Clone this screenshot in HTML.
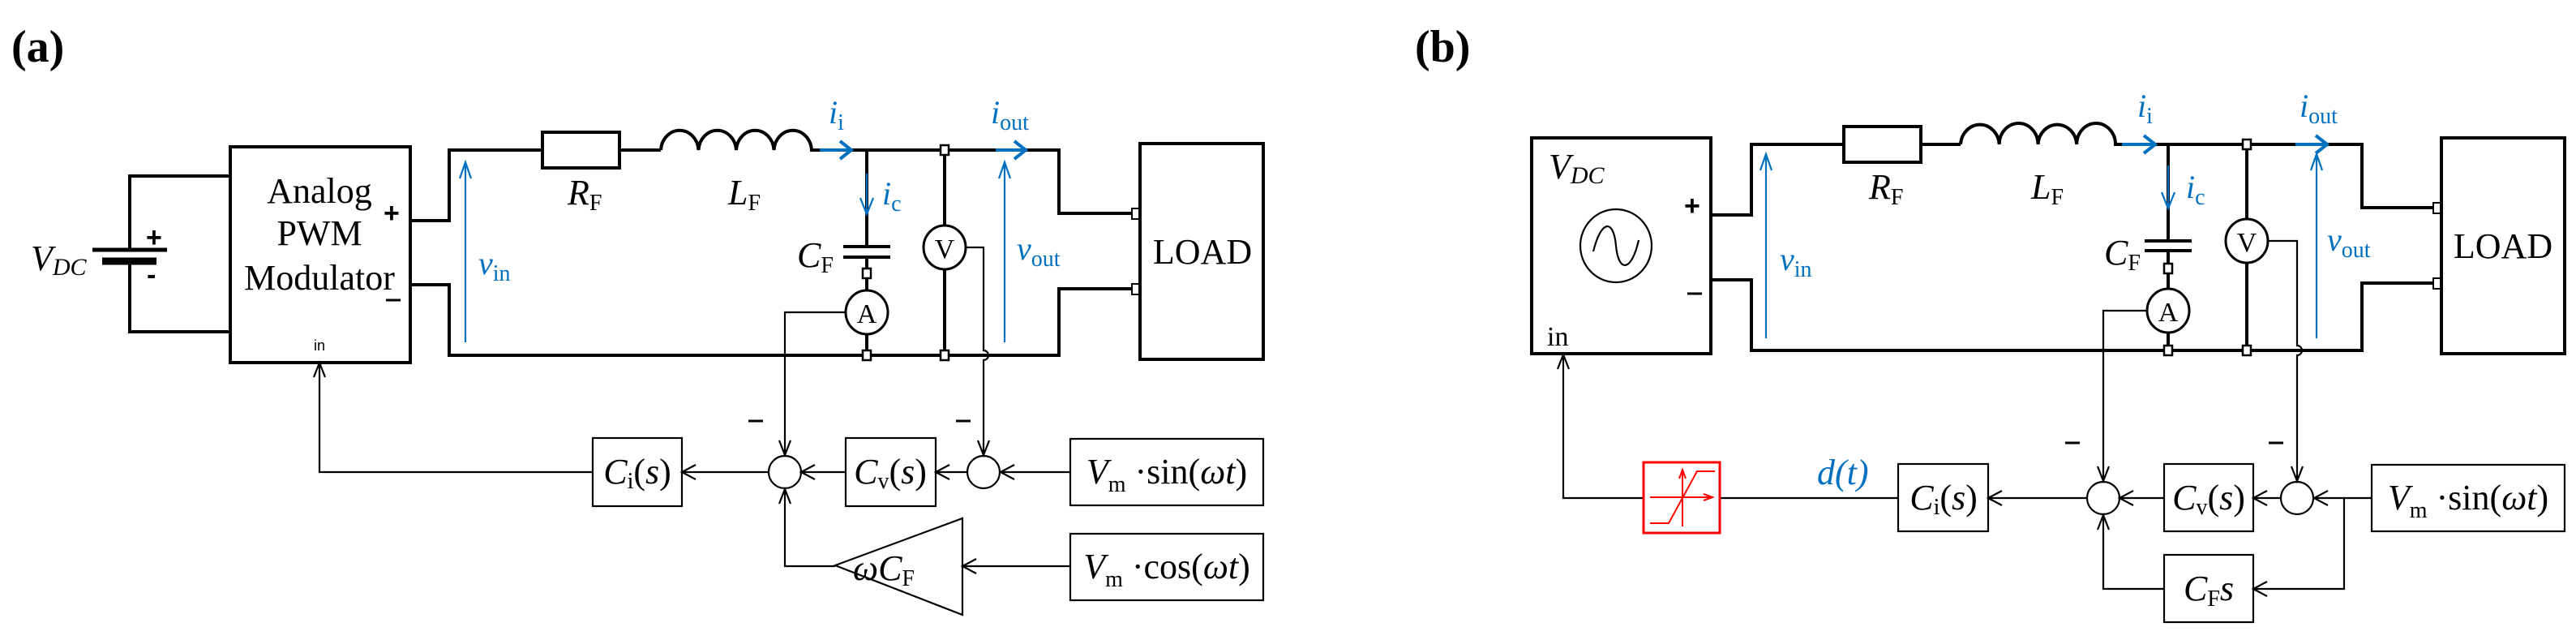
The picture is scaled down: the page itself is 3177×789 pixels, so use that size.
<!DOCTYPE html>
<html><head><meta charset="utf-8"><style>
html,body{margin:0;padding:0;background:#fff;}
svg{display:block;}
text{font-family:"Liberation Serif",serif;}
.w{stroke:#000;stroke-width:4;fill:none;}
.s{stroke:#000;stroke-width:2.2;fill:none;}
.b{stroke:#0070C0;stroke-width:2.2;fill:none;}
.bt{stroke:#0070C0;stroke-width:4;fill:none;}
.t{font-size:44px;fill:#000;}
.bl{fill:#0070C0;font-style:italic;font-size:40px;}
.i{font-style:italic;}
.sub{font-size:28px;font-style:normal;}
</style></head><body>
<svg width="3177" height="789" viewBox="0 0 3177 789" xmlns="http://www.w3.org/2000/svg">
<!-- ============ (a) ============ -->
<text x="14" y="76" style="font-family:'Liberation Serif',serif;font-weight:bold;font-size:56px">(a)</text>
<!-- battery -->
<path class="w" d="M284 217 H160 V308 M160 321 V409 H284"/>
<line x1="114" y1="308" x2="206" y2="308" stroke="#000" stroke-width="5"/>
<line x1="126" y1="322" x2="193" y2="322" stroke="#000" stroke-width="9"/>
<text x="180" y="304" style="font-family:'Liberation Sans',sans-serif;font-size:34px;font-weight:bold">+</text>
<text x="181" y="350" style="font-family:'Liberation Sans',sans-serif;font-size:34px;font-weight:bold">-</text>
<text x="38" y="333" class="t i">V<tspan font-size="30" dy="6">DC</tspan></text>
<!-- modulator -->
<rect x="284" y="181" width="222" height="266" class="w"/>
<text x="394" y="250" class="t" text-anchor="middle">Analog</text>
<text x="394" y="302" class="t" text-anchor="middle">PWM</text>
<text x="394" y="357" class="t" text-anchor="middle">Modulator</text>
<text x="394" y="432" text-anchor="middle" style="font-family:'Liberation Sans',sans-serif;font-size:18px">in</text>
<text x="473" y="274" style="font-family:'Liberation Sans',sans-serif;font-size:34px;font-weight:bold">+</text>
<line x1="476" y1="370" x2="494" y2="370" stroke="#000" stroke-width="3"/>
<!-- circuit -->
<path class="w" d="M506 272 H554 V185 H669 M764 185 H815"/>
<rect x="669" y="163" width="95" height="44" class="w"/>
<path class="w" d="M815 185 A23.3 26 0 0 1 861.5 185 A23.3 26 0 0 1 908 185 A23.3 26 0 0 1 954.5 185 A23.3 26 0 0 1 1001 185 H1306 V263 H1400"/>
<path class="w" d="M506 351 H554 V438 H1306 V356 H1400"/>
<rect x="1406" y="177" width="152" height="266" class="w"/>
<text x="1483" y="325" class="t" text-anchor="middle">LOAD</text>
<rect x="1396" y="257" width="9" height="13" fill="#fff" stroke="#000" stroke-width="2"/>
<rect x="1396" y="350" width="9" height="13" fill="#fff" stroke="#000" stroke-width="2"/>
<!-- cap branch -->
<path class="w" d="M1069 185 V304 M1069 317 V358 M1069 412 V438"/>
<line x1="1040" y1="304" x2="1098" y2="304" stroke="#000" stroke-width="4"/>
<line x1="1040" y1="317" x2="1098" y2="317" stroke="#000" stroke-width="4"/>
<rect x="1064" y="331" width="10" height="12" fill="#fff" stroke="#000" stroke-width="2.5"/>
<ellipse cx="1069" cy="385" rx="26" ry="27" fill="#fff" stroke="#000" stroke-width="3"/>
<text x="1069" y="398" text-anchor="middle" style="font-size:34px">A</text>
<rect x="1064" y="432" width="10" height="12" fill="#fff" stroke="#000" stroke-width="2.5"/>
<text x="983" y="329" class="t i">C<tspan class="sub" dy="7">F</tspan></text>
<!-- voltmeter -->
<path class="w" d="M1165 185 V278 M1165 332 V438"/>
<ellipse cx="1165" cy="305" rx="26" ry="27" fill="#fff" stroke="#000" stroke-width="3"/>
<text x="1165" y="318" text-anchor="middle" style="font-size:34px">V</text>
<rect x="1160" y="179" width="10" height="12" fill="#fff" stroke="#000" stroke-width="2.5"/>
<rect x="1160" y="432" width="10" height="12" fill="#fff" stroke="#000" stroke-width="2.5"/>
<text x="700" y="252" class="t i">R<tspan class="sub" dy="7">F</tspan></text>
<text x="898" y="252" class="t i">L<tspan class="sub" dy="7">F</tspan></text>
<!-- blue -->
<path class="bt" d="M1011 185 H1050 M1036 174 L1050 185 L1036 196"/>
<path class="bt" d="M1228 185 H1265 M1251 174 L1265 185 L1251 196"/>
<path class="b" d="M1069 214 V264 M1061 244 L1069 264 L1077 244"/>
<path class="b" d="M574 422 V200 M567 220 L574 200 L581 220"/>
<path class="b" d="M1239 422 V200 M1232 220 L1239 200 L1246 220"/>
<text x="1022" y="152" class="bl">i<tspan class="sub" dy="8">i</tspan></text>
<text x="1222" y="152" class="bl">i<tspan class="sub" dy="8">out</tspan></text>
<text x="1088" y="252" class="bl">i<tspan class="sub" dy="8">c</tspan></text>
<text x="590" y="338" class="bl">v<tspan class="sub" dy="8">in</tspan></text>
<text x="1254" y="320" class="bl">v<tspan class="sub" dy="8">out</tspan></text>
<!-- control -->
<path class="s" d="M1043 385 H968 V561 M961 543 L968 561 L975 543"/>
<path class="s" d="M1191 305 H1213 V432 A6 6 0 0 1 1213 444 V561 M1206 543 L1213 561 L1220 543"/>
<line x1="923" y1="519" x2="941" y2="519" stroke="#000" stroke-width="3"/>
<line x1="1179" y1="519" x2="1197" y2="519" stroke="#000" stroke-width="3"/>
<ellipse cx="968" cy="582" rx="20" ry="20" class="s"/>
<ellipse cx="1213" cy="582" rx="20" ry="20" class="s"/>
<rect x="731" y="540" width="110" height="84" class="s" stroke-width="3"/>
<rect x="1043" y="540" width="111" height="84" class="s" stroke-width="3"/>
<rect x="1320" y="541" width="238" height="82" class="s" stroke-width="3"/>
<rect x="1320" y="658" width="238" height="82" class="s" stroke-width="3"/>
<text x="786" y="596" class="t" text-anchor="middle"><tspan class="i">C</tspan><tspan class="sub" dy="6">i</tspan><tspan dy="-6">(</tspan><tspan class="i">s</tspan>)</text>
<text x="1098" y="596" class="t" text-anchor="middle"><tspan class="i">C</tspan><tspan class="sub" dy="6">v</tspan><tspan dy="-6">(</tspan><tspan class="i">s</tspan>)</text>
<text x="1439" y="596" class="t" text-anchor="middle"><tspan class="i">V</tspan><tspan class="sub i" dy="10">m</tspan><tspan dy="-10"> ·sin(</tspan><tspan class="i">ωt</tspan>)</text>
<text x="1439" y="713" class="t" text-anchor="middle"><tspan class="i">V</tspan><tspan class="sub i" dy="10">m</tspan><tspan dy="-10"> ·cos(</tspan><tspan class="i">ωt</tspan>)</text>
<path class="s" d="M1320 582 H1234 M1251 573 L1234 582 L1251 591"/>
<path class="s" d="M1192 582 H1154 M1171 573 L1154 582 L1171 591"/>
<path class="s" d="M1043 582 H988 M1005 573 L988 582 L1005 591"/>
<path class="s" d="M948 582 H841 M858 573 L841 582 L858 591"/>
<path class="s" d="M731 582 H394 V447 M387 465 L394 447 L401 465"/>
<path class="s" d="M1320 698 H1187 M1204 689 L1187 698 L1204 707"/>
<path class="s" d="M1030 697 L1187 639 V758 Z" fill="#fff"/>
<text x="1090" y="715" class="t i" text-anchor="middle">ωC<tspan class="sub" dy="7">F</tspan></text>
<path class="s" d="M1030 698 H968 V603 M961 621 L968 603 L975 621"/>

<!-- ============ (b) ============ -->
<text x="1745" y="76" style="font-family:'Liberation Serif',serif;font-weight:bold;font-size:56px">(b)</text>
<rect x="1889" y="170" width="221" height="266" class="w"/>
<text x="1910" y="220" class="t i">V<tspan font-size="30" dy="6">DC</tspan></text>
<ellipse cx="1993" cy="303" rx="44" ry="45" class="s" stroke-width="3"/>
<path class="s" stroke-width="3" d="M1965 310 C1975 270,1990 270,1993 303 C1996 336,2012 336,2021 296"/>
<text x="2077" y="265" style="font-family:'Liberation Sans',sans-serif;font-size:34px;font-weight:bold">+</text>
<line x1="2081" y1="362" x2="2099" y2="362" stroke="#000" stroke-width="3"/>
<text x="1908" y="426" style="font-size:34px">in</text>
<path class="w" d="M2110 265 H2160 V178 H2274 M2369 178 H2418"/>
<rect x="2274" y="156" width="95" height="44" class="w"/>
<path class="w" d="M2418 178 A23.9 26 0 0 1 2465.7 178 A23.9 26 0 0 1 2513.5 178 A23.9 26 0 0 1 2561.2 178 A23.9 26 0 0 1 2609 178 H2913 V256 H3008"/>
<path class="w" d="M2110 345 H2160 V432 H2913 V349 H3008"/>
<rect x="3011" y="170" width="152" height="266" class="w"/>
<text x="3087" y="318" class="t" text-anchor="middle">LOAD</text>
<rect x="3001" y="250" width="9" height="13" fill="#fff" stroke="#000" stroke-width="2"/>
<rect x="3001" y="343" width="9" height="13" fill="#fff" stroke="#000" stroke-width="2"/>
<path class="w" d="M2674 178 V297 M2674 309 V356 M2674 410 V432"/>
<line x1="2645" y1="297" x2="2703" y2="297" stroke="#000" stroke-width="4"/>
<line x1="2645" y1="309" x2="2703" y2="309" stroke="#000" stroke-width="4"/>
<rect x="2669" y="325" width="10" height="12" fill="#fff" stroke="#000" stroke-width="2.5"/>
<ellipse cx="2674" cy="383" rx="26" ry="27" fill="#fff" stroke="#000" stroke-width="3"/>
<text x="2674" y="396" text-anchor="middle" style="font-size:34px">A</text>
<rect x="2669" y="426" width="10" height="12" fill="#fff" stroke="#000" stroke-width="2.5"/>
<text x="2595" y="326" class="t i">C<tspan class="sub" dy="7">F</tspan></text>
<path class="w" d="M2771 178 V270 M2771 324 V432"/>
<ellipse cx="2771" cy="297" rx="26" ry="27" fill="#fff" stroke="#000" stroke-width="3"/>
<text x="2771" y="310" text-anchor="middle" style="font-size:34px">V</text>
<rect x="2766" y="172" width="10" height="12" fill="#fff" stroke="#000" stroke-width="2.5"/>
<rect x="2766" y="426" width="10" height="12" fill="#fff" stroke="#000" stroke-width="2.5"/>
<text x="2305" y="245" class="t i">R<tspan class="sub" dy="7">F</tspan></text>
<text x="2505" y="245" class="t i">L<tspan class="sub" dy="7">F</tspan></text>
<path class="bt" d="M2617 178 H2658 M2644 167 L2658 178 L2644 189"/>
<path class="bt" d="M2831 178 H2870 M2856 167 L2870 178 L2856 189"/>
<path class="b" d="M2674 204 V257 M2666 237 L2674 257 L2682 237"/>
<path class="b" d="M2178 417 V190 M2171 210 L2178 190 L2185 210"/>
<path class="b" d="M2857 417 V190 M2850 210 L2857 190 L2864 210"/>
<text x="2636" y="144" class="bl">i<tspan class="sub" dy="8">i</tspan></text>
<text x="2836" y="144" class="bl">i<tspan class="sub" dy="8">out</tspan></text>
<text x="2696" y="244" class="bl">i<tspan class="sub" dy="8">c</tspan></text>
<text x="2195" y="333" class="bl">v<tspan class="sub" dy="8">in</tspan></text>
<text x="2870" y="309" class="bl">v<tspan class="sub" dy="8">out</tspan></text>
<!-- control b -->
<path class="s" d="M2648 383 H2594 V593 M2587 575 L2594 593 L2601 575"/>
<path class="s" d="M2797 297 H2833 V426 A6 6 0 0 1 2833 438 V593 M2826 575 L2833 593 L2840 575"/>
<line x1="2547" y1="546" x2="2565" y2="546" stroke="#000" stroke-width="3"/>
<line x1="2798" y1="546" x2="2816" y2="546" stroke="#000" stroke-width="3"/>
<ellipse cx="2594" cy="614" rx="20" ry="20" class="s"/>
<ellipse cx="2833" cy="614" rx="20" ry="20" class="s"/>
<rect x="2341" y="572" width="111" height="83" class="s" stroke-width="3"/>
<rect x="2669" y="572" width="110" height="83" class="s" stroke-width="3"/>
<rect x="2925" y="573" width="238" height="82" class="s" stroke-width="3"/>
<rect x="2669" y="684" width="110" height="83" class="s" stroke-width="3"/>
<text x="2397" y="628" class="t" text-anchor="middle"><tspan class="i">C</tspan><tspan class="sub" dy="6">i</tspan><tspan dy="-6">(</tspan><tspan class="i">s</tspan>)</text>
<text x="2724" y="628" class="t" text-anchor="middle"><tspan class="i">C</tspan><tspan class="sub" dy="6">v</tspan><tspan dy="-6">(</tspan><tspan class="i">s</tspan>)</text>
<text x="3044" y="628" class="t" text-anchor="middle"><tspan class="i">V</tspan><tspan class="sub i" dy="10">m</tspan><tspan dy="-10"> ·sin(</tspan><tspan class="i">ωt</tspan>)</text>
<text x="2724" y="740" class="t i" text-anchor="middle">C<tspan class="sub i" dy="7">F</tspan><tspan dy="-7">s</tspan></text>
<path class="s" d="M2925 614 H2854 M2871 605 L2854 614 L2871 623"/>
<path class="s" d="M2813 614 H2779 M2796 605 L2779 614 L2796 623"/>
<path class="s" d="M2669 614 H2614 M2631 605 L2614 614 L2631 623"/>
<path class="s" d="M2574 614 H2452 M2469 605 L2452 614 L2469 623"/>
<path class="s" d="M2341 614 H1928 V437 M1921 455 L1928 437 L1935 455"/>
<path class="s" d="M2891 614 V726 H2779 M2796 717 L2779 726 L2796 735"/>
<path class="s" d="M2669 726 H2594 V635 M2587 653 L2594 635 L2601 653"/>
<rect x="2027" y="570" width="94" height="87" fill="#fff" stroke="#f00" stroke-width="3"/>
<g stroke="#f00" stroke-width="2" fill="none">
<path d="M2035 645 H2058 L2093 581 H2115"/>
<path d="M2075 649 V581 M2071 590 L2075 579 L2079 590"/>
<path d="M2035 613 H2110 M2101 609 L2112 613 L2101 617"/>
</g>
<text x="2241" y="597" class="bl" style="font-size:44px">d(t)</text>
</svg>
</body></html>
